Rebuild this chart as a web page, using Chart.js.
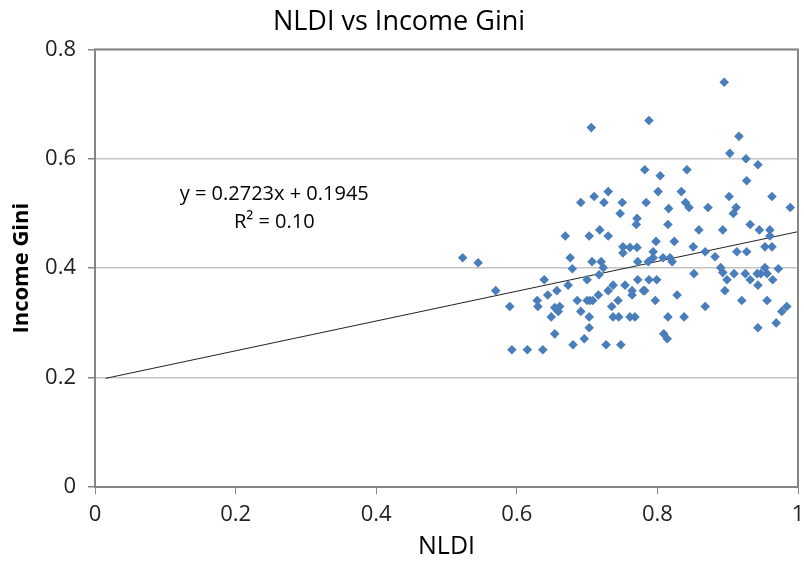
<html>
<head>
    <title>NLDI vs Income Gini</title>
    <script src="https://cdn.jsdelivr.net/npm/chart.js"></script>
    <style>
        body { margin: 0; background: #fff; }
        .wrap { width: 804px; height: 566px; }
    </style>
</head>
<body>
    <div class="wrap"><canvas id="myChart" width="804" height="566"></canvas></div>
    <script>
        // values
        const nldi = [0.523, 0.545, 0.570, 0.590, 0.593, 0.615, 0.637, 0.629, 0.630, 0.639,
            0.644, 0.657, 0.654, 0.661, 0.659, 0.649, 0.654, 0.669, 0.676, 0.679,
            0.673, 0.680, 0.686, 0.691, 0.696, 0.703, 0.703, 0.691, 0.710, 0.730,
            0.724, 0.703, 0.718, 0.730, 0.707, 0.720, 0.723, 0.700, 0.717, 0.700,
            0.704, 0.708, 0.716, 0.706, 0.727, 0.730, 0.737, 0.735, 0.737, 0.745,
            0.744, 0.748, 0.747, 0.750, 0.751, 0.761, 0.771, 0.751, 0.754, 0.764,
            0.764, 0.780, 0.782, 0.761, 0.768, 0.772, 0.787, 0.794, 0.772, 0.788,
            0.799, 0.797, 0.815, 0.838, 0.809, 0.814, 0.808, 0.818, 0.821, 0.828,
            0.798, 0.824, 0.782, 0.804, 0.842, 0.788, 0.801, 0.834, 0.784, 0.840,
            0.816, 0.845, 0.771, 0.770, 0.815, 0.872, 0.895, 0.916, 0.903, 0.926,
            0.943, 0.927, 0.902, 0.963, 0.912, 0.908, 0.989, 0.859, 0.893, 0.932,
            0.945, 0.960, 0.960, 0.851, 0.868, 0.913, 0.927, 0.953, 0.963, 0.882,
            0.852, 0.890, 0.893, 0.899, 0.896, 0.909, 0.925, 0.932, 0.942, 0.947,
            0.943, 0.953, 0.956, 0.964, 0.972, 0.920, 0.956, 0.868, 0.943, 0.969,
            0.977, 0.984, 0.794]
        const gini = [0.419, 0.410, 0.359, 0.330, 0.251, 0.251, 0.251, 0.341, 0.330, 0.379,
            0.351, 0.359, 0.328, 0.330, 0.321, 0.311, 0.280, 0.459, 0.419, 0.399,
            0.369, 0.260, 0.341, 0.321, 0.271, 0.311, 0.291, 0.520, 0.531, 0.540,
            0.520, 0.459, 0.470, 0.459, 0.412, 0.412, 0.401, 0.379, 0.388, 0.341,
            0.341, 0.341, 0.351, 0.657, 0.260, 0.359, 0.369, 0.330, 0.311, 0.311,
            0.341, 0.260, 0.500, 0.520, 0.439, 0.438, 0.438, 0.428, 0.369, 0.359,
            0.351, 0.359, 0.359, 0.311, 0.311, 0.412, 0.412, 0.419, 0.379, 0.379,
            0.379, 0.341, 0.311, 0.311, 0.280, 0.271, 0.419, 0.419, 0.412, 0.351,
            0.449, 0.449, 0.580, 0.569, 0.580, 0.670, 0.540, 0.540, 0.520, 0.520,
            0.509, 0.511, 0.491, 0.480, 0.480, 0.511, 0.740, 0.641, 0.610, 0.600,
            0.589, 0.560, 0.531, 0.531, 0.511, 0.500, 0.511, 0.470, 0.470, 0.480,
            0.470, 0.470, 0.459, 0.439, 0.430, 0.430, 0.430, 0.439, 0.439, 0.421,
            0.390, 0.401, 0.392, 0.379, 0.359, 0.390, 0.390, 0.379, 0.390, 0.390,
            0.369, 0.401, 0.390, 0.379, 0.399, 0.341, 0.341, 0.330, 0.291, 0.300,
            0.321, 0.330, 0.430]

        // linear trendline y = 0.2723x + 0.1945, drawn from x = 0.015 to 1
        const trendX = [0.015, 1]
        const trendY = [0.1986, 0.4668]
        const trendLabel = ['y = 0.2723x + 0.1945', 'R\u00b2 = 0.10']

        const xTicks = [0, 0.2, 0.4, 0.6, 0.8, 1]
        const yTicks = [0, 0.2, 0.4, 0.6, 0.8]

        const fontName = "'Open Sans', 'Noto Sans', sans-serif"
        const axisGray = '#868686'

        const points = nldi.map((x, i) => ({ x: x, y: gini[i] }))
        const trend = trendX.map((x, i) => ({ x: x, y: trendY[i] }))

        // plot frame + equation text
        const extras = {
            id: 'extras',
            afterDraw(chart) {
                const { ctx, chartArea: a, scales } = chart
                ctx.save()
                ctx.strokeStyle = axisGray
                ctx.lineWidth = 2
                ctx.strokeRect(a.left, a.top, a.right - a.left, a.bottom - a.top)
                ctx.fillStyle = '#000'
                ctx.font = "20px " + fontName
                ctx.textAlign = 'center'
                ctx.textBaseline = 'middle'
                const cx = scales.x.getPixelForValue(0.255)
                ctx.fillText(trendLabel[0], cx, scales.y.getPixelForValue(0.535))
                ctx.fillText(trendLabel[1], cx, scales.y.getPixelForValue(0.484))
                ctx.restore()
            }
        }

        Chart.defaults.font.family = fontName
        Chart.defaults.color = '#222'

        const ctx = document.getElementById('myChart').getContext('2d')
        const myChart = new Chart(ctx, {
            type: 'scatter',
            data: {
                datasets: [{
                    label: 'Income Gini',
                    data: points,
                    pointStyle: 'rectRot',
                    pointRadius: 4.8,
                    backgroundColor: '#4a7ebb',
                    borderColor: '#4a7ebb',
                    borderWidth: 0
                }, {
                    label: 'Linear',
                    type: 'line',
                    data: trend,
                    borderColor: '#222',
                    borderWidth: 1,
                    pointRadius: 0,
                    fill: false
                }]
            },
            options: {
                responsive: false,
                animation: false,
                layout: { padding: { left: 0, right: 6, top: 0, bottom: 0 } },
                plugins: {
                    legend: { display: false },
                    tooltip: { enabled: false },
                    title: {
                        display: true,
                        text: 'NLDI vs Income Gini',
                        color: '#000',
                        font: { size: 27, weight: 'normal' },
                        padding: { top: 6, bottom: 11 }
                    }
                },
                scales: {
                    x: {
                        type: 'linear',
                        min: 0,
                        max: 1,
                        afterBuildTicks: s => { s.ticks = xTicks.map(v => ({ value: v })) },
                        afterFit: s => { s.height = 79; s.paddingLeft = 0; s.paddingRight = 0 },
                        ticks: {
                            color: '#222',
                            font: { size: 22 },
                            padding: 8,
                            maxRotation: 0,
                            callback: v => String(v)
                        },
                        grid: {
                            drawOnChartArea: false,
                            drawTicks: true,
                            tickLength: 7,
                            tickColor: axisGray
                        },
                        border: { display: false },
                        title: {
                            display: true,
                            text: 'NLDI',
                            color: '#000',
                            font: { size: 25 },
                            padding: { bottom: 4 }
                        }
                    },
                    y: {
                        type: 'linear',
                        min: 0,
                        max: 0.8,
                        afterBuildTicks: s => { s.ticks = yTicks.map(v => ({ value: v })) },
                        afterFit: s => { s.width = 95; s.paddingTop = 0; s.paddingBottom = 0 },
                        ticks: {
                            color: '#222',
                            font: { size: 22 },
                            padding: 12,
                            callback: v => String(v)
                        },
                        grid: {
                            color: '#c4c4c4',
                            lineWidth: 1.5,
                            drawTicks: true,
                            tickLength: 7,
                            tickColor: axisGray
                        },
                        border: { display: false },
                        title: {
                            display: true,
                            text: 'Income Gini',
                            color: '#000',
                            font: { size: 22, weight: 'bold' },
                            padding: { top: 9 }
                        }
                    }
                }
            },
            plugins: [extras]
        })
    </script>
</body>
</html>
